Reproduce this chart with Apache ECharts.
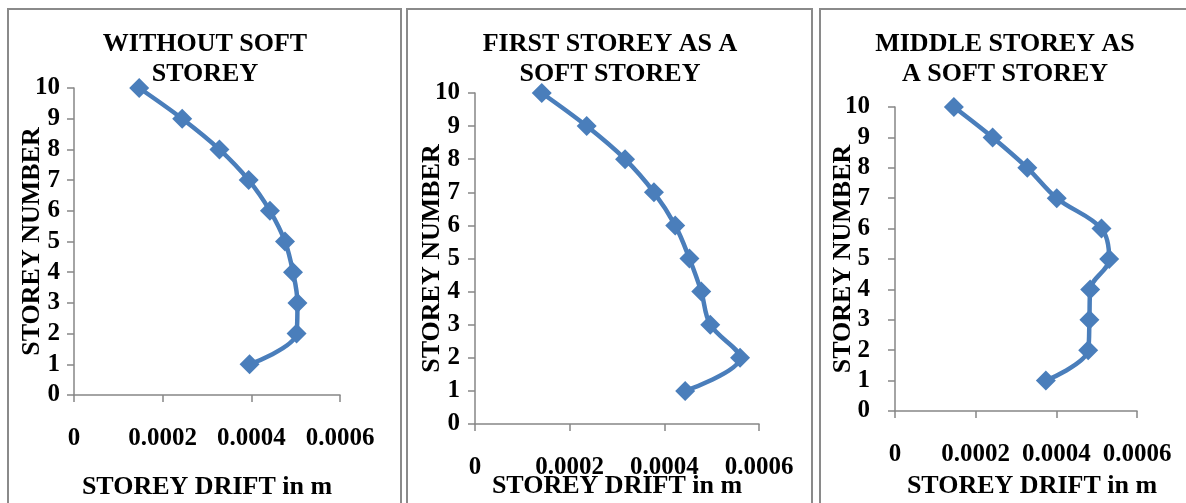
<!DOCTYPE html>
<html>
<head>
<meta charset="utf-8">
<script src="https://cdn.jsdelivr.net/npm/echarts@6/dist/echarts.min.js"></script>
<style>
html,body{margin:0;padding:0;background:#fff;}
#chart{width:1186px;height:503px;}
</style>
</head>
<body>
<div id="chart"></div>
<script>
// Data
const storeys = [1, 2, 3, 4, 5, 6, 7, 8, 9, 10];
const driftWithout = [0.000396, 0.000502, 0.000504, 0.000494, 0.000476, 0.000442, 0.000394, 0.000328, 0.000244, 0.000147];
const driftFirstSoft = [0.000444, 0.000560, 0.000497, 0.000478, 0.000453, 0.000423, 0.000378, 0.000317, 0.000236, 0.000141];
const driftMiddleSoft = [0.000374, 0.000479, 0.000482, 0.000484, 0.000531, 0.000512, 0.000401, 0.000328, 0.000242, 0.000146];
const panelTitles = ['WITHOUT SOFT\nSTOREY', 'FIRST STOREY AS A\nSOFT STOREY', 'MIDDLE STOREY AS\nA SOFT STOREY'];
const xTickLabels = ['0', '0.0002', '0.0004', '0.0006'];
const yTickLabels = ['0', '1', '2', '3', '4', '5', '6', '7', '8', '9', '10'];
const xAxisTitle = 'STOREY DRIFT in m';
const yAxisTitle = 'STOREY NUMBER';

const FONT = 'Liberation Serif';
const BLUE = '#4a7ebb';
const AXIS = '#868686';

const panels = [
  {grid: {left: 74, top: 88, width: 266, height: 307}, titleX: 205, yGap: 29, yMargin: 14, xGap: 79, xPad: 0, data: driftWithout},
  {grid: {left: 475, top: 93, width: 284, height: 331}, titleX: 610, yGap: 30, yMargin: 15, xGap: 49, xPad: 0, data: driftFirstSoft},
  {grid: {left: 895, top: 107, width: 242, height: 304}, titleX: 1005, yGap: 39, yMargin: 25, xGap: 62, xPad: 32, data: driftMiddleSoft}
];

const textBase = {fontFamily: FONT, fontWeight: 'bold', color: '#000', fontSize: 25};

const option = {
  animation: false,
  backgroundColor: '#fff',
  title: panels.map((p, i) => ({
    text: panelTitles[i],
    left: p.titleX,
    top: 29,
    textAlign: 'center',
    padding: 0,
    textStyle: {fontFamily: FONT, fontWeight: 'bold', color: '#000', fontSize: 26, lineHeight: 30}
  })),
  grid: panels.map(p => Object.assign({containLabel: false, outerBoundsMode: 'none'}, p.grid)),
  xAxis: panels.map((p, i) => ({
    type: 'value', gridIndex: i, min: 0, max: 0.0006, interval: 0.0002,
    name: xAxisTitle, nameLocation: 'middle', nameGap: p.xGap, nameMoveOverlap: false,
    nameTextStyle: Object.assign({}, textBase, {fontSize: 26, padding: [0, 0, 0, p.xPad]}),
    axisLine: {show: true, lineStyle: {color: AXIS, width: 1.5}},
    axisTick: {show: true, length: 7, lineStyle: {color: AXIS, width: 1.5}},
    axisLabel: Object.assign({}, textBase, {margin: 31, formatter: (v) => xTickLabels[Math.round(v / 0.0002)]}),
    splitLine: {show: false}
  })),
  yAxis: panels.map((p, i) => ({
    type: 'value', gridIndex: i, min: 0, max: 10, interval: 1,
    name: yAxisTitle, nameLocation: 'middle', nameGap: p.yGap, nameRotate: 90, nameMoveOverlap: false,
    nameTextStyle: Object.assign({}, textBase, {fontSize: 26}),
    axisLine: {show: true, lineStyle: {color: AXIS, width: 1.5}},
    axisTick: {show: true, length: 7, lineStyle: {color: AXIS, width: 1.5}},
    axisLabel: Object.assign({}, textBase, {margin: p.yMargin, formatter: (v) => yTickLabels[Math.round(v)]}),
    splitLine: {show: false}
  })),
  series: panels.map((p, i) => ({
    type: 'line', xAxisIndex: i, yAxisIndex: i,
    data: storeys.map((s, k) => [p.data[k], s]),
    smooth: 0.35,
    symbol: 'diamond', symbolSize: 20,
    lineStyle: {color: BLUE, width: 4.5},
    itemStyle: {color: BLUE},
    z: 3
  })),
  graphic: [
    {type: 'rect', shape: {x: 8, y: 9, width: 393, height: 600}, style: {fill: 'none', stroke: '#8a8a8a', lineWidth: 2}, silent: true, z: -1},
    {type: 'rect', shape: {x: 407, y: 9, width: 405, height: 600}, style: {fill: 'none', stroke: '#8a8a8a', lineWidth: 2}, silent: true, z: -1},
    {type: 'rect', shape: {x: 820, y: 9, width: 500, height: 600}, style: {fill: 'none', stroke: '#8a8a8a', lineWidth: 2}, silent: true, z: -1}
  ]
};

const chart = echarts.init(document.getElementById('chart'), null, {renderer: 'canvas'});
chart.setOption(option);
</script>
</body>
</html>
